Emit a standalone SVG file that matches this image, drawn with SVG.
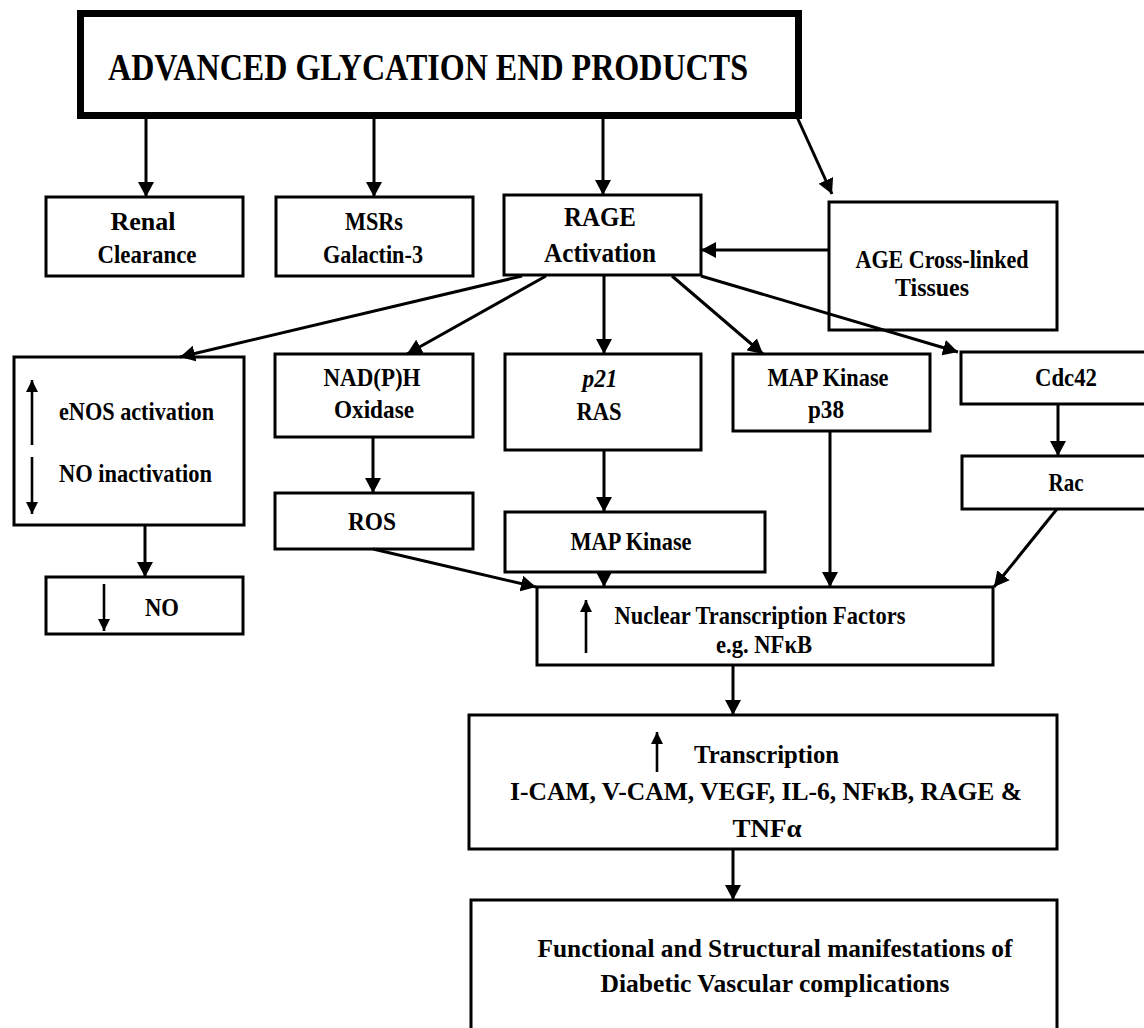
<svg xmlns="http://www.w3.org/2000/svg" width="1144" height="1028" viewBox="0 0 1144 1028">
<defs>
<style>
.box{fill:#fff;stroke:#000;stroke-width:3}
.t{font-family:"Liberation Serif","Times New Roman",serif;font-weight:bold;font-size:26px;fill:#000}
.c{text-anchor:middle}
.conn{stroke:#000;stroke-width:3;fill:none;marker-end:url(#ah)}
.sm{stroke:#000;stroke-width:2.6;fill:none;marker-end:url(#ahs)}
</style>
<marker id="ah" markerUnits="userSpaceOnUse" markerWidth="16" markerHeight="16" refX="15" refY="8" orient="auto" viewBox="0 0 16 16"><path d="M0,0 L15,8 L0,16 z" fill="#000"/></marker>
<marker id="ahs" markerUnits="userSpaceOnUse" markerWidth="12" markerHeight="12" refX="12" refY="6" orient="auto" viewBox="0 0 12 12"><path d="M0,0 L12,6 L0,12 z" fill="#000"/></marker>
</defs>
<rect width="1144" height="1028" fill="#fff"/>

<g id="age">
<rect x="80.5" y="13.5" width="718" height="102" fill="#fff" stroke="#000" stroke-width="7"/>
<text class="t" x="108" y="80" style="font-size:38px" textLength="640" lengthAdjust="spacingAndGlyphs">ADVANCED GLYCATION END PRODUCTS</text>
</g>

<g id="renal">
<rect class="box" x="46" y="197" width="197" height="79"/>
<text class="t c" x="143" y="230" textLength="65" lengthAdjust="spacingAndGlyphs">Renal</text>
<text class="t c" x="147" y="263" textLength="99" lengthAdjust="spacingAndGlyphs">Clearance</text>
</g>

<g id="msrs">
<rect class="box" x="276" y="197" width="197" height="79"/>
<text class="t c" x="374" y="230" textLength="58" lengthAdjust="spacingAndGlyphs">MSRs</text>
<text class="t c" x="373" y="263" textLength="100" lengthAdjust="spacingAndGlyphs">Galactin-3</text>
</g>

<g id="rage">
<rect class="box" x="504" y="195" width="197" height="80"/>
<text class="t c" x="600" y="226" style="font-size:28px" textLength="72" lengthAdjust="spacingAndGlyphs">RAGE</text>
<text class="t c" x="600" y="262" style="font-size:28px" textLength="112" lengthAdjust="spacingAndGlyphs">Activation</text>
</g>

<g id="crosslinked">
<rect class="box" x="829" y="202" width="228" height="128"/>
<text class="t c" x="942" y="268" textLength="173" lengthAdjust="spacingAndGlyphs">AGE Cross-linked</text>
<text class="t c" x="932" y="296" textLength="74" lengthAdjust="spacingAndGlyphs">Tissues</text>
</g>

<g id="enos">
<rect class="box" x="14" y="357" width="230" height="168"/>
<line class="sm" x1="32" y1="445" x2="32" y2="380"/>
<line class="sm" x1="32" y1="457" x2="32" y2="514"/>
<text class="t" x="59" y="420" textLength="155" lengthAdjust="spacingAndGlyphs">eNOS activation</text>
<text class="t" x="59" y="482" textLength="153" lengthAdjust="spacingAndGlyphs">NO inactivation</text>
</g>

<g id="no">
<rect class="box" x="46" y="577" width="197" height="57"/>
<line class="sm" x1="104" y1="584" x2="104" y2="631"/>
<text class="t" x="145" y="616" textLength="34" lengthAdjust="spacingAndGlyphs">NO</text>
</g>

<g id="nadph">
<rect class="box" x="275" y="354" width="198" height="83"/>
<text class="t c" x="372" y="386" textLength="97" lengthAdjust="spacingAndGlyphs">NAD(P)H</text>
<text class="t c" x="374" y="418" textLength="80" lengthAdjust="spacingAndGlyphs">Oxidase</text>
</g>

<g id="ros">
<rect class="box" x="275" y="493" width="198" height="56"/>
<text class="t c" x="372" y="530" textLength="48" lengthAdjust="spacingAndGlyphs">ROS</text>
</g>

<g id="p21">
<rect class="box" x="505" y="354" width="196" height="96"/>
<text class="t c" x="600" y="387" font-style="italic" textLength="35" lengthAdjust="spacingAndGlyphs">p21</text>
<text class="t c" x="599" y="420" textLength="45" lengthAdjust="spacingAndGlyphs">RAS</text>
</g>

<g id="mapk">
<rect class="box" x="505" y="512" width="260" height="60"/>
<text class="t c" x="631" y="550" textLength="121" lengthAdjust="spacingAndGlyphs">MAP Kinase</text>
</g>

<g id="p38">
<rect class="box" x="733" y="354" width="197" height="77"/>
<text class="t c" x="828" y="386" textLength="121" lengthAdjust="spacingAndGlyphs">MAP Kinase</text>
<text class="t c" x="826" y="418" textLength="36" lengthAdjust="spacingAndGlyphs">p38</text>
</g>

<g id="cdc42">
<rect class="box" x="961" y="352" width="210" height="52"/>
<text class="t c" x="1066" y="386" textLength="62" lengthAdjust="spacingAndGlyphs">Cdc42</text>
</g>

<g id="rac">
<rect class="box" x="962" y="456" width="210" height="53"/>
<text class="t c" x="1066" y="491" textLength="35" lengthAdjust="spacingAndGlyphs">Rac</text>
</g>

<g id="nuclear">
<rect class="box" x="537" y="587" width="456" height="78"/>
<line class="sm" x1="586" y1="653" x2="586" y2="600"/>
<text class="t c" x="760" y="624" textLength="291" lengthAdjust="spacingAndGlyphs">Nuclear Transcription Factors</text>
<text class="t c" x="764" y="653" textLength="96" lengthAdjust="spacingAndGlyphs">e.g. NFκB</text>
</g>

<g id="transcription">
<rect class="box" x="469" y="715" width="588" height="134"/>
<line class="sm" x1="657" y1="772" x2="657" y2="732"/>
<text class="t" x="694" y="763" textLength="145" lengthAdjust="spacingAndGlyphs">Transcription</text>
<text class="t c" x="766" y="800" textLength="512" lengthAdjust="spacingAndGlyphs">I-CAM, V-CAM, VEGF, IL-6, NFκB, RAGE &amp;</text>
<text class="t c" x="767" y="837" textLength="69" lengthAdjust="spacingAndGlyphs">TNFα</text>
</g>

<g id="manifestations">
<rect class="box" x="471" y="900" width="586" height="140"/>
<text class="t c" x="775" y="957" textLength="475" lengthAdjust="spacingAndGlyphs">Functional and Structural manifestations of</text>
<text class="t c" x="775" y="992" textLength="349" lengthAdjust="spacingAndGlyphs">Diabetic Vascular complications</text>
</g>

<g id="connectors">
<line class="conn" x1="146" y1="117" x2="146" y2="197"/>
<line class="conn" x1="374" y1="117" x2="374" y2="197"/>
<line class="conn" x1="603" y1="117" x2="603" y2="195"/>
<line class="conn" x1="797" y1="117" x2="832" y2="194"/>
<line class="conn" x1="829" y1="250" x2="701" y2="250"/>
<line class="conn" x1="522" y1="276" x2="180" y2="357"/>
<line class="conn" x1="546" y1="276" x2="407" y2="354"/>
<line class="conn" x1="604" y1="276" x2="604" y2="354"/>
<line class="conn" x1="672" y1="276" x2="763" y2="354"/>
<line class="conn" x1="701" y1="276" x2="958" y2="352"/>
<line class="conn" x1="145" y1="525" x2="145" y2="577"/>
<line class="conn" x1="373" y1="437" x2="373" y2="493"/>
<line class="conn" x1="604" y1="450" x2="604" y2="512"/>
<line class="conn" x1="1058" y1="404" x2="1058" y2="456"/>
<line class="conn" x1="373" y1="549" x2="536" y2="587"/>
<line class="conn" x1="604" y1="572" x2="604" y2="587"/>
<line class="conn" x1="830" y1="431" x2="830" y2="587"/>
<line class="conn" x1="1057" y1="509" x2="994" y2="587"/>
<line class="conn" x1="733" y1="665" x2="733" y2="715"/>
<line class="conn" x1="733" y1="849" x2="733" y2="900"/>
</g>
</svg>
